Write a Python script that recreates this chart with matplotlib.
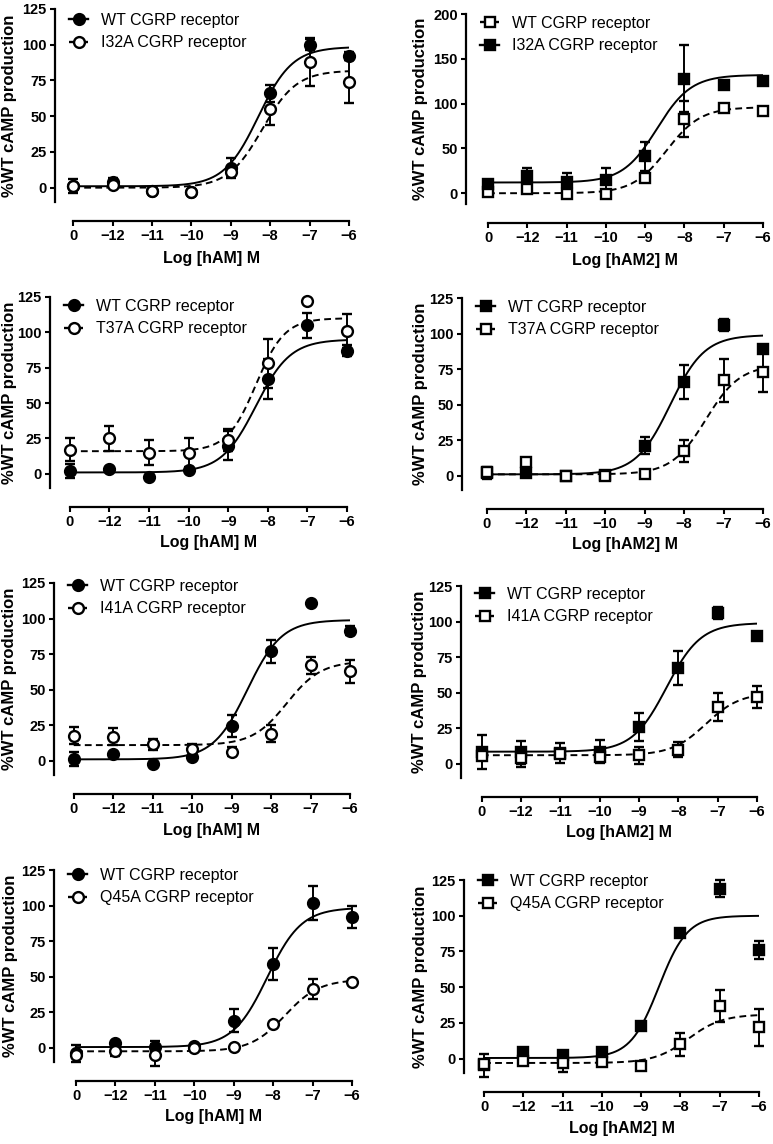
import numpy as np
import matplotlib
matplotlib.use("Agg")
import matplotlib.pyplot as plt
from matplotlib.lines import Line2D

plt.rcParams['font.family'] = ['Liberation Sans', 'DejaVu Sans']

# x positions: first point is the vehicle ("0") drawn at -13
x_pos = [-13, -12, -11, -10, -9, -8, -7, -6]
x_labels = ['0', '\u221212', '\u221211', '\u221210', '\u22129', '\u22128', '\u22127', '\u22126']

# panel 1 - hAM, I32A
p1_wt = [1, 4, -2, -3, 14, 66, 100, 92]
p1_wt_sem = [5, 3, 0, 0, 7, 6, 4, 3]
p1_mut = [1, 2, -2, -3, 11, 55, 88, 74]
p1_mut_sem = [0, 0, 0, 0, 3, 11, 17, 15]
p1_fit = [(1, 98.5, -8.3, 1.0), (0, 82, -8.2, 1.0)]

# panel 2 - hAM2, I32A (legend: WT open / I32A filled)
p2_a = [1, 5, -1, -1, 17, 83, 95, 92]
p2_a_sem = [0, 0, 0, 0, 5, 20, 0, 0]
p2_b = [10, 19, 13, 15, 41, 128, 121, 125]
p2_b_sem = [3, 9, 10, 13, 16, 37, 0, 0]
p2_fit = [(0, 96, -8.45, 1.0), (12, 132, -8.7, 1.0)]

# panel 3 - hAM, T37A
p3_wt = [2, 3.5, -2, 3, 20, 67, 105, 87]
p3_wt_sem = [5, 0, 0, 0, 10, 14, 9, 4]
p3_mut = [17, 25, 15, 15, 24, 78, 122, 101]
p3_mut_sem = [8, 9, 9, 10, 8, 17, 0, 12]
p3_fit = [(1, 95, -8.3, 1.0), (16, 110, -8.3, 1.2)]

# panel 4 - hAM2, T37A
p4_wt = [2, 2, 0, 0.5, 21, 66, 106, 89]
p4_wt_sem = [4, 0, 0, 0, 6, 12, 4, 3]
p4_mut = [3, 10, 0, 0, 1, 17.5, 67, 73]
p4_mut_sem = [0, 0, 0, 0, 0, 8, 15, 14]
p4_fit = [(1, 99, -8.35, 1.0), (1, 78, -7.45, 1.0)]

# panel 5 - hAM, I41A
p5_wt = [1, 4.5, -2, 2.5, 24.5, 77, 111, 91.5]
p5_wt_sem = [5, 0, 0, 0, 8, 8, 0, 3]
p5_mut = [17.5, 17, 11.5, 8, 6.5, 19, 67, 63]
p5_mut_sem = [6, 6, 4, 4, 3, 6, 6, 8]
p5_fit = [(1, 99, -8.6, 1.0), (11, 70, -7.6, 1.0)]

# panel 6 - hAM2, I41A
p6_wt = [8, 8, 7.5, 8.5, 26, 67.5, 106, 90]
p6_wt_sem = [12, 8, 7, 8, 10, 12, 4, 0]
p6_mut = [5.6, 4.4, 7, 4.5, 6, 10, 40, 47]
p6_mut_sem = [0, 7, 0, 0, 6, 5, 10, 8]
p6_fit = [(8.5, 99, -8.3, 1.0), (6, 50, -7.3, 1.0)]

# panel 7 - hAM, Q45A
p7_wt = [-4, 3.5, 0.7, 1.5, 19, 59, 101.5, 92]
p7_wt_sem = [6, 0, 4, 0, 8, 11, 12, 8]
p7_mut = [-5, -2, -5, -0.5, 0.2, 17, 41.5, 46]
p7_mut_sem = [0, 4, 8, 0, 0, 0, 7, 2]
p7_fit = [(0.5, 98.5, -8.15, 1.0), (-2.5, 48, -7.7, 1.0)]

# panel 8 - hAM2, Q45A
p8_wt = [-4.7, 4.7, 2.8, 4.7, 23, 88, 119, 76]
p8_wt_sem = [8, 0, 0, 0, 3, 0, 6, 6]
p8_mut = [-3.7, -1.4, -3, -2, -5.4, 10, 37, 22]
p8_mut_sem = [0, 0, 6, 0, 0, 8, 11, 13]
p8_fit = [(0.5, 100, -8.55, 1.2), (-3, 31, -7.8, 1.0)]

yt_125 = [0, 25, 50, 75, 100, 125]
yt_200 = [0, 50, 100, 150, 200]


def hill(x, bottom, top, logec50, slope):
    return bottom + (top - bottom) / (1 + 10 ** ((logec50 - x) * slope))


# (label, mean, sem, filled, fit) per series
panels = [
    dict(xl='Log [hAM] M', yt=yt_125, ylim=(-10, 125), marker='o',
         series=[('WT CGRP receptor', p1_wt, p1_wt_sem, True, p1_fit[0]),
                 ('I32A CGRP receptor', p1_mut, p1_mut_sem, False, p1_fit[1])]),
    dict(xl='Log [hAM2] M', yt=yt_200, ylim=(-12, 200), marker='s',
         series=[('WT CGRP receptor', p2_a, p2_a_sem, False, p2_fit[0]),
                 ('I32A CGRP receptor', p2_b, p2_b_sem, True, p2_fit[1])]),
    dict(xl='Log [hAM] M', yt=yt_125, ylim=(-10, 125), marker='o',
         series=[('WT CGRP receptor', p3_wt, p3_wt_sem, True, p3_fit[0]),
                 ('T37A CGRP receptor', p3_mut, p3_mut_sem, False, p3_fit[1])]),
    dict(xl='Log [hAM2] M', yt=yt_125, ylim=(-10, 125), marker='s',
         series=[('WT CGRP receptor', p4_wt, p4_wt_sem, True, p4_fit[0]),
                 ('T37A CGRP receptor', p4_mut, p4_mut_sem, False, p4_fit[1])]),
    dict(xl='Log [hAM] M', yt=yt_125, ylim=(-10, 125), marker='o',
         series=[('WT CGRP receptor', p5_wt, p5_wt_sem, True, p5_fit[0]),
                 ('I41A CGRP receptor', p5_mut, p5_mut_sem, False, p5_fit[1])]),
    dict(xl='Log [hAM2] M', yt=yt_125, ylim=(-10, 125), marker='s',
         series=[('WT CGRP receptor', p6_wt, p6_wt_sem, True, p6_fit[0]),
                 ('I41A CGRP receptor', p6_mut, p6_mut_sem, False, p6_fit[1])]),
    dict(xl='Log [hAM] M', yt=yt_125, ylim=(-10, 125), marker='o',
         series=[('WT CGRP receptor', p7_wt, p7_wt_sem, True, p7_fit[0]),
                 ('Q45A CGRP receptor', p7_mut, p7_mut_sem, False, p7_fit[1])]),
    dict(xl='Log [hAM2] M', yt=yt_125, ylim=(-10, 125), marker='s',
         series=[('WT CGRP receptor', p8_wt, p8_wt_sem, True, p8_fit[0]),
                 ('Q45A CGRP receptor', p8_mut, p8_mut_sem, False, p8_fit[1])]),
]

# axes boxes in pixels: left (y spine), right (-6 tick), top (ymax), bottom (ymin)
boxes = [(55, 349, 9, 202), (466, 763, 14, 204),
         (50, 347, 297, 488), (462, 763, 298, 490),
         (54, 350, 583, 775), (461, 757, 586, 778),
         (54, 352, 870, 1062), (464, 759, 880, 1073)]
x_gap = [0.46, 0.56, 0.5, 0.63, 0.5, 0.53, 0.56, 0.51]
leg_drop = [4, 2, 2, 2, -4, 1, -2, -6]
ylab_x = [10, 420, 10, 420, 10, 420, 10, 420]  # y label centre, px
xlab_dy = [57, 57, 54, 54, 55, 55, 55, 55]   # x label centre below ymin, px

W, H = 773, 1144
fig = plt.figure(figsize=(W / 100, H / 100), dpi=100)

xx = np.linspace(-13, -6, 300)
for i, p in enumerate(panels):
    l, r, t, b = boxes[i]
    w_px, h_px = r - l, b - t
    ax = fig.add_axes([l / W, 1 - b / H, w_px / W, h_px / H])
    handles = []
    for label, mean, sem, filled, fit in p['series']:
        ls = '-' if filled else (0, (3.5, 2.2))
        ax.plot(xx, hill(xx, *fit), color='black', lw=1.4, linestyle=ls, zorder=2)
        ax.errorbar(x_pos, mean, yerr=sem, fmt=p['marker'], ms=7.8,
                    mfc='black' if filled else 'white', mec='black', mew=1.7,
                    ecolor='black', elinewidth=1.4, capsize=3.6, capthick=1.4,
                    clip_on=False, zorder=3)
        handles.append(Line2D([], [], color='black', lw=1.7, linestyle=ls,
                              marker=p['marker'], ms=7.8,
                              mfc='black' if filled else 'white',
                              mec='black', mew=1.7))
    ax.set_xlim(-13 - x_gap[i], -6)
    ax.set_ylim(*p['ylim'])
    ax.set_yticks(p['yt'])
    ax.set_xticks(x_pos)
    ax.set_xticklabels(x_labels)
    for s in ['top', 'right']:
        ax.spines[s].set_visible(False)
    ax.spines['bottom'].set_position(('outward', 13.5))
    ax.spines['bottom'].set_bounds(-13, -6)
    for s in ['left', 'bottom']:
        ax.spines[s].set_linewidth(1.6)
    ax.tick_params(width=1.5, length=3.8, labelsize=10.5, pad=2.2)
    for lab in ax.get_xticklabels() + ax.get_yticklabels():
        lab.set_fontweight('bold')
    ax.set_xlabel(p['xl'], fontsize=11.5, fontweight='bold', va='center')
    # centre the x label under the 0..-6 span of the axis
    ax.xaxis.set_label_coords((x_gap[i] + 3.5) / (7 + x_gap[i]), -xlab_dy[i] / h_px)
    ax.set_ylabel('%WT cAMP production', fontsize=12, fontweight='bold', va='center')
    ax.yaxis.set_label_coords((ylab_x[i] - l) / w_px, 0.5)
    ax.legend(handles, [s[0] for s in p['series']], loc='upper left',
              bbox_to_anchor=(14 / w_px, 1 - leg_drop[i] / h_px),
              frameon=False, fontsize=11.5, handlelength=1.2,
              handletextpad=0.8, labelspacing=0.45, borderpad=0,
              borderaxespad=0)

fig.savefig('out.png', dpi=100)
